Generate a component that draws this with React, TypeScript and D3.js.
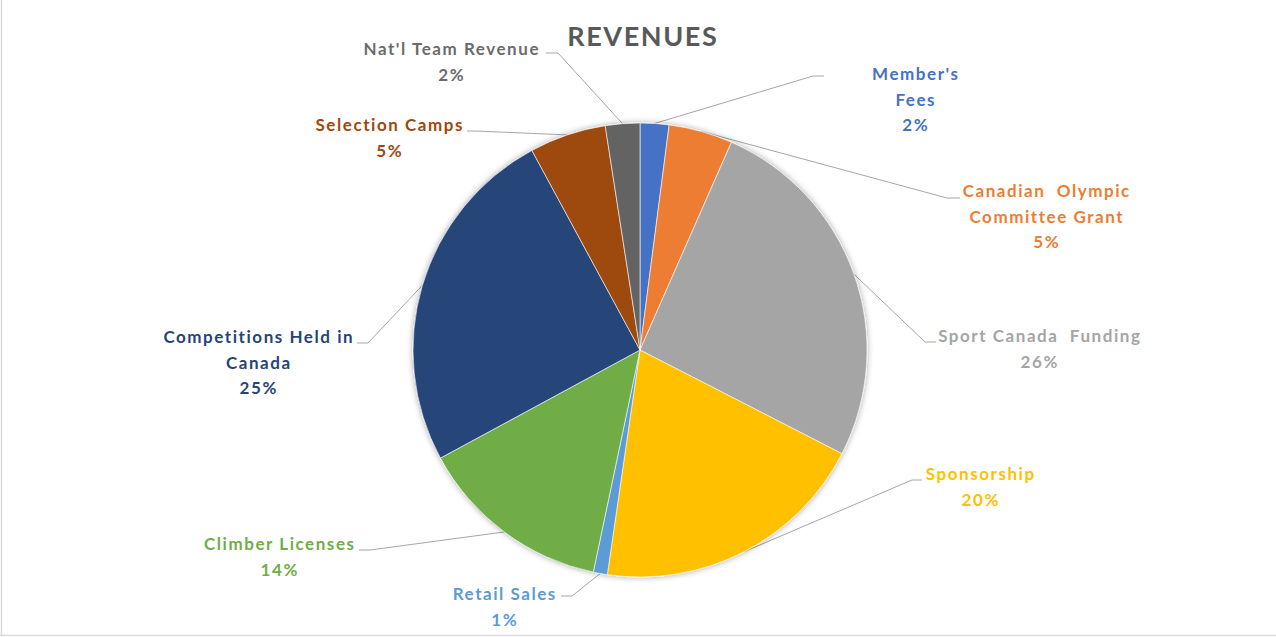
import React from "react";
import * as d3 from "d3";

const categories = [
  "Member's Fees",
  "Canadian Olympic Committee Grant",
  "Sport Canada Funding",
  "Sponsorship",
  "Retail Sales",
  "Climber Licenses",
  "Competitions Held in Canada",
  "Selection Camps",
  "Nat'l Team Revenue",
];
const values = [2.05, 4.55, 25.95, 19.75, 1.0, 13.8, 25.0, 5.45, 2.45];
const labelLines = [
  ["Member's", "Fees"],
  ["Canadian  Olympic", "Committee Grant"],
  ["Sport Canada  Funding"],
  ["Sponsorship"],
  ["Retail Sales"],
  ["Climber Licenses"],
  ["Competitions Held in", "Canada"],
  ["Selection Camps"],
  ["Nat'l Team Revenue"],
];
const sliceColors = ["#4472C4", "#ED7D31", "#A5A5A5", "#FFC000", "#5B9BD5", "#70AD47", "#264478", "#9E480E", "#636363"];
const textColors = ["#4472C4", "#ED7D31", "#A5A5A5", "#FFC000", "#5B9BD5", "#70AD47", "#264478", "#9E480E", "#6B6B6B"];

// label anchor: center x of text block, baseline of first line; elbow: where leader line meets label
const labelPos = [
  { x: 915, y: 80, ex: 813, ey: 76, hx: 824 },
  { x: 1046, y: 197, ex: 947, ey: 198, hx: 960 },
  { x: 1039, y: 342, ex: 925, ey: 342, hx: 936 },
  { x: 980, y: 480, ex: 912, ey: 480, hx: 922 },
  { x: 504, y: 600, ex: 572, ey: 596, hx: 561 },
  { x: 279, y: 550, ex: 370, ey: 550, hx: 359 },
  { x: 258, y: 343, ex: 368, ey: 343, hx: 357 },
  { x: 389, y: 131, ex: 475, ey: 131, hx: 467 },
  { x: 451, y: 55, ex: 558, ey: 53, hx: 546 },
];

export default function App() {
  const W = 1276, H = 637;
  const cx = 640, cy = 350, r = 227;
  const pie = d3.pie<number>().sort(null).value((d) => d);
  const arcs = pie(values);
  const arcGen = d3.arc<d3.PieArcDatum<number>>().innerRadius(0).outerRadius(r);
  const total = d3.sum(values);
  const font = "Lato, 'Open Sans', sans-serif";
  const lineH = 25.5;
  const ls = 1.55;

  return (
    <svg width={W} height={H} style={{ position: "absolute", left: 0, top: 0, background: "#fff" }}>
      <defs>
        <filter id="sh" x="-20%" y="-20%" width="140%" height="140%">
          <feGaussianBlur in="SourceAlpha" stdDeviation="3" />
          <feOffset dx="0" dy="0" result="b" />
          <feComponentTransfer><feFuncA type="linear" slope="0.35" /></feComponentTransfer>
          <feMerge><feMergeNode /><feMergeNode in="SourceGraphic" /></feMerge>
        </filter>
      </defs>
      <line x1={1.5} y1={0} x2={1.5} y2={636} stroke="#d9d9d9" strokeWidth={1.5} />
      <line x1={0} y1={635.5} x2={W} y2={635.5} stroke="#d9d9d9" strokeWidth={1.5} />
      <text x={642 + 0.8} y={46} textAnchor="middle" fontFamily={font} fontWeight={700} fontSize={27} letterSpacing={1.6} fill="#595959">
        REVENUES
      </text>
      {/* leader lines */}
      {arcs.map((a, i) => {
        const mid = (a.startAngle + a.endAngle) / 2;
        const px = cx + r * Math.sin(mid);
        const py = cy - r * Math.cos(mid);
        const p = labelPos[i];
        return (
          <polyline
            key={"l" + i}
            points={`${px},${py} ${p.ex},${p.ey} ${p.hx},${p.ey}`}
            fill="none"
            stroke="#a6a6a6"
            strokeWidth={1}
          />
        );
      })}
      <g transform={`translate(${cx},${cy})`} filter="url(#sh)">
        {arcs.map((a, i) => (
          <path key={i} d={arcGen(a) || ""} fill={sliceColors[i]} stroke="#fff" strokeWidth={0.6} />
        ))}
      </g>
      {labelLines.map((lines, i) => {
        const p = labelPos[i];
        const pct = Math.round((values[i] / total) * 100) + "%";
        const all = [...lines, pct];
        return (
          <text key={"t" + i} textAnchor="middle" fontFamily={font} fontWeight={700} fontSize={17} letterSpacing={ls} fill={textColors[i]}>
            {all.map((s, j) => (
              <tspan key={j} x={p.x + ls / 2} y={p.y + j * lineH} style={{ whiteSpace: "pre" }}>
                {s}
              </tspan>
            ))}
          </text>
        );
      })}
    </svg>
  );
}
